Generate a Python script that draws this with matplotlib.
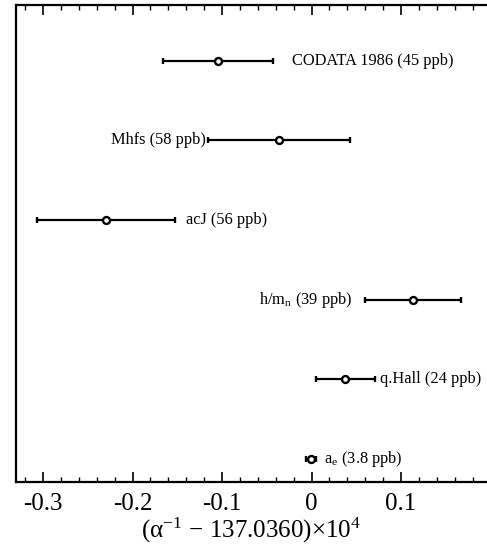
import matplotlib
matplotlib.use("Agg")
import matplotlib.pyplot as plt
from matplotlib.ticker import MultipleLocator, FuncFormatter

# Data (values of (alpha^-1 - 137.0360) x 10^4) and uncertainties in ppb
labels = ["CODATA 1986 (45 ppb)", "Mhfs (58 ppb)", "acJ (56 ppb)",
          "h/m$_\\mathregular{n}$ (39 ppb)", "q.Hall (24 ppb)", "a$_\\mathregular{e}$ (3.8 ppb)"]
values = [-0.1047, -0.0365, -0.2298, 0.1135, 0.0379, -0.0007]
ppb = [45, 58, 56, 39, 24, 3.8]
label_side = ["right", "left", "right", "left", "right", "right"]
label_gap = [14, 1, 8.5, 9, 3.5, 6]  # points

errors = [p * 137.036e-9 * 1e4 for p in ppb]
ypos = list(range(len(values), 0, -1))

plt.rcParams['font.family'] = ['Liberation Serif', 'DejaVu Serif']
plt.rcParams['mathtext.fontset'] = 'stix'
plt.rcParams['axes.unicode_minus'] = False

fig = plt.figure(figsize=(4.87, 5.45), dpi=100)
ax = fig.add_axes([16/487, 63/545, 1 - 16/487, (482-5)/545])

ax.errorbar(values, ypos, xerr=errors, fmt='o', color='black', ecolor='black',
            elinewidth=1.6, capsize=2.2, capthick=2.2, markersize=5,
            markerfacecolor='white', markeredgecolor='black', markeredgewidth=1.7,
            zorder=3)

for v, e, y, lab, side, gap in zip(values, errors, ypos, labels, label_side, label_gap):
    if side == "right":
        ax.annotate(lab, xy=(v + e, y), xytext=(gap, 0), textcoords='offset points',
                    ha='left', va='center', fontsize=11.8)
    else:
        ax.annotate(lab, xy=(v - e, y), xytext=(-gap, 0), textcoords='offset points',
                    ha='right', va='center', fontsize=11.8)

ax.set_xlim(-0.3302, 0.196)
ax.set_ylim(0.711, 6.70)
ax.set_yticks([])
ax.xaxis.set_major_locator(MultipleLocator(0.1))
ax.xaxis.set_minor_locator(MultipleLocator(0.02))
ax.xaxis.set_major_formatter(FuncFormatter(lambda x, p: "%g" % round(x, 3)))
ax.tick_params(axis='x', which='both', direction='in', top=True, bottom=True,
               labelsize=18, pad=8)
ax.tick_params(axis='x', which='major', length=7, width=1.2)
ax.tick_params(axis='x', which='minor', length=3.5, width=1.0)

for s in ['left', 'top', 'bottom']:
    ax.spines[s].set_linewidth(1.6)
ax.spines['right'].set_visible(False)

ax.set_xlabel('(α$^{\\mathregular{-1}}$ − 137.0360)×10$^{\\mathregular{4}}$', fontsize=18, labelpad=0)

fig.savefig("out.png", dpi=100)
